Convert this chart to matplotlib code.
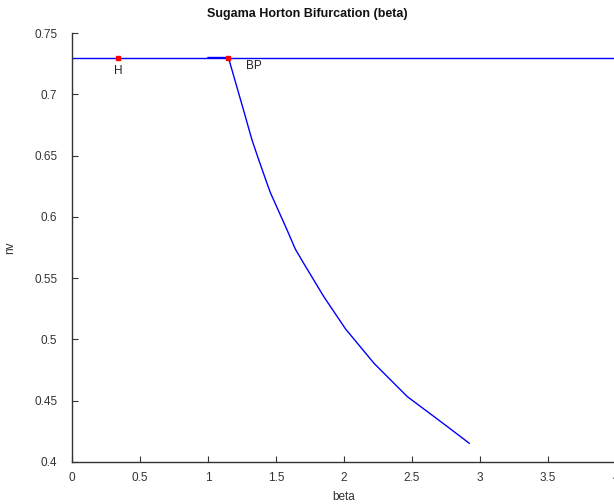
import numpy as np
import matplotlib
matplotlib.use("Agg")
import matplotlib.pyplot as plt

plt.rcParams['font.family'] = ['Liberation Sans', 'DejaVu Sans']

# equilibrium branch (nv constant)
eq_beta = [0.0, 4.0]
eq_nv = [0.73, 0.73]

# bifurcating branch
br_beta = [1.0, 1.150, 1.261, 1.323, 1.371, 1.433, 1.458, 1.581, 1.642, 1.703,
           1.851, 2.011, 2.220, 2.466, 2.712, 2.921]
br_nv = [0.730, 0.730, 0.6872, 0.6629, 0.6472, 0.6276, 0.6199, 0.5894, 0.5737, 0.5622,
         0.5350, 0.5086, 0.4806, 0.4533, 0.4329, 0.4153]

# special points
pt_beta = [0.338, 1.150]
pt_nv = [0.73, 0.73]
pt_labels = ['H', 'BP']
pt_offsets = [(0, -10), (18, -6)]

fig = plt.figure(figsize=(6.14, 5.04), dpi=100)
ax = fig.add_axes([72/614, 1 - 462/504, (616 - 72)/614, (462 - 33)/504])

ax.plot(eq_beta, eq_nv, color='#0000ff', lw=1.0)
ax.plot(br_beta, br_nv, color='#0000ff', lw=1.0)
ax.plot(pt_beta, pt_nv, 's', color='red', ms=2.5, mec='red')
for b, v, lab, off in zip(pt_beta, pt_nv, pt_labels, pt_offsets):
    ax.annotate(lab, (b, v), xytext=off, textcoords='offset points',
                ha='center', va='center', fontsize=8.5, color='#222222')

ax.set_xlim(0, 4)
ax.set_ylim(0.4, 0.75)
ax.set_xticks(np.arange(0, 4.01, 0.5))
ax.set_xticklabels(['0', '0.5', '1', '1.5', '2', '2.5', '3', '3.5', '4'])
ax.set_yticks(np.arange(0.4, 0.751, 0.05))
ax.set_yticklabels(['0.4', '0.45', '0.5', '0.55', '0.6', '0.65', '0.7', '0.75'])

for s in ['top', 'right']:
    ax.spines[s].set_visible(False)
for s in ['left', 'bottom']:
    ax.spines[s].set_color('#333333')
    ax.spines[s].set_linewidth(1.0)
ax.tick_params(direction='in', length=4, width=0.8, colors='#333333',
               labelsize=8.5, labelcolor='#333333')
ax.tick_params(axis='x', pad=7.5)
ax.tick_params(axis='y', pad=10.5)

ax.set_xlabel('beta', fontsize=8.5, color='#333333', labelpad=5)
ax.set_ylabel('nv', fontsize=8.5, color='#333333', labelpad=13)
fig.text(0.5, 1 - 14/504, 'Sugama Horton Bifurcation (beta)', ha='center', va='center',
         fontsize=9, fontweight='bold', color='#111111')

fig.savefig('out.png', dpi=100)
